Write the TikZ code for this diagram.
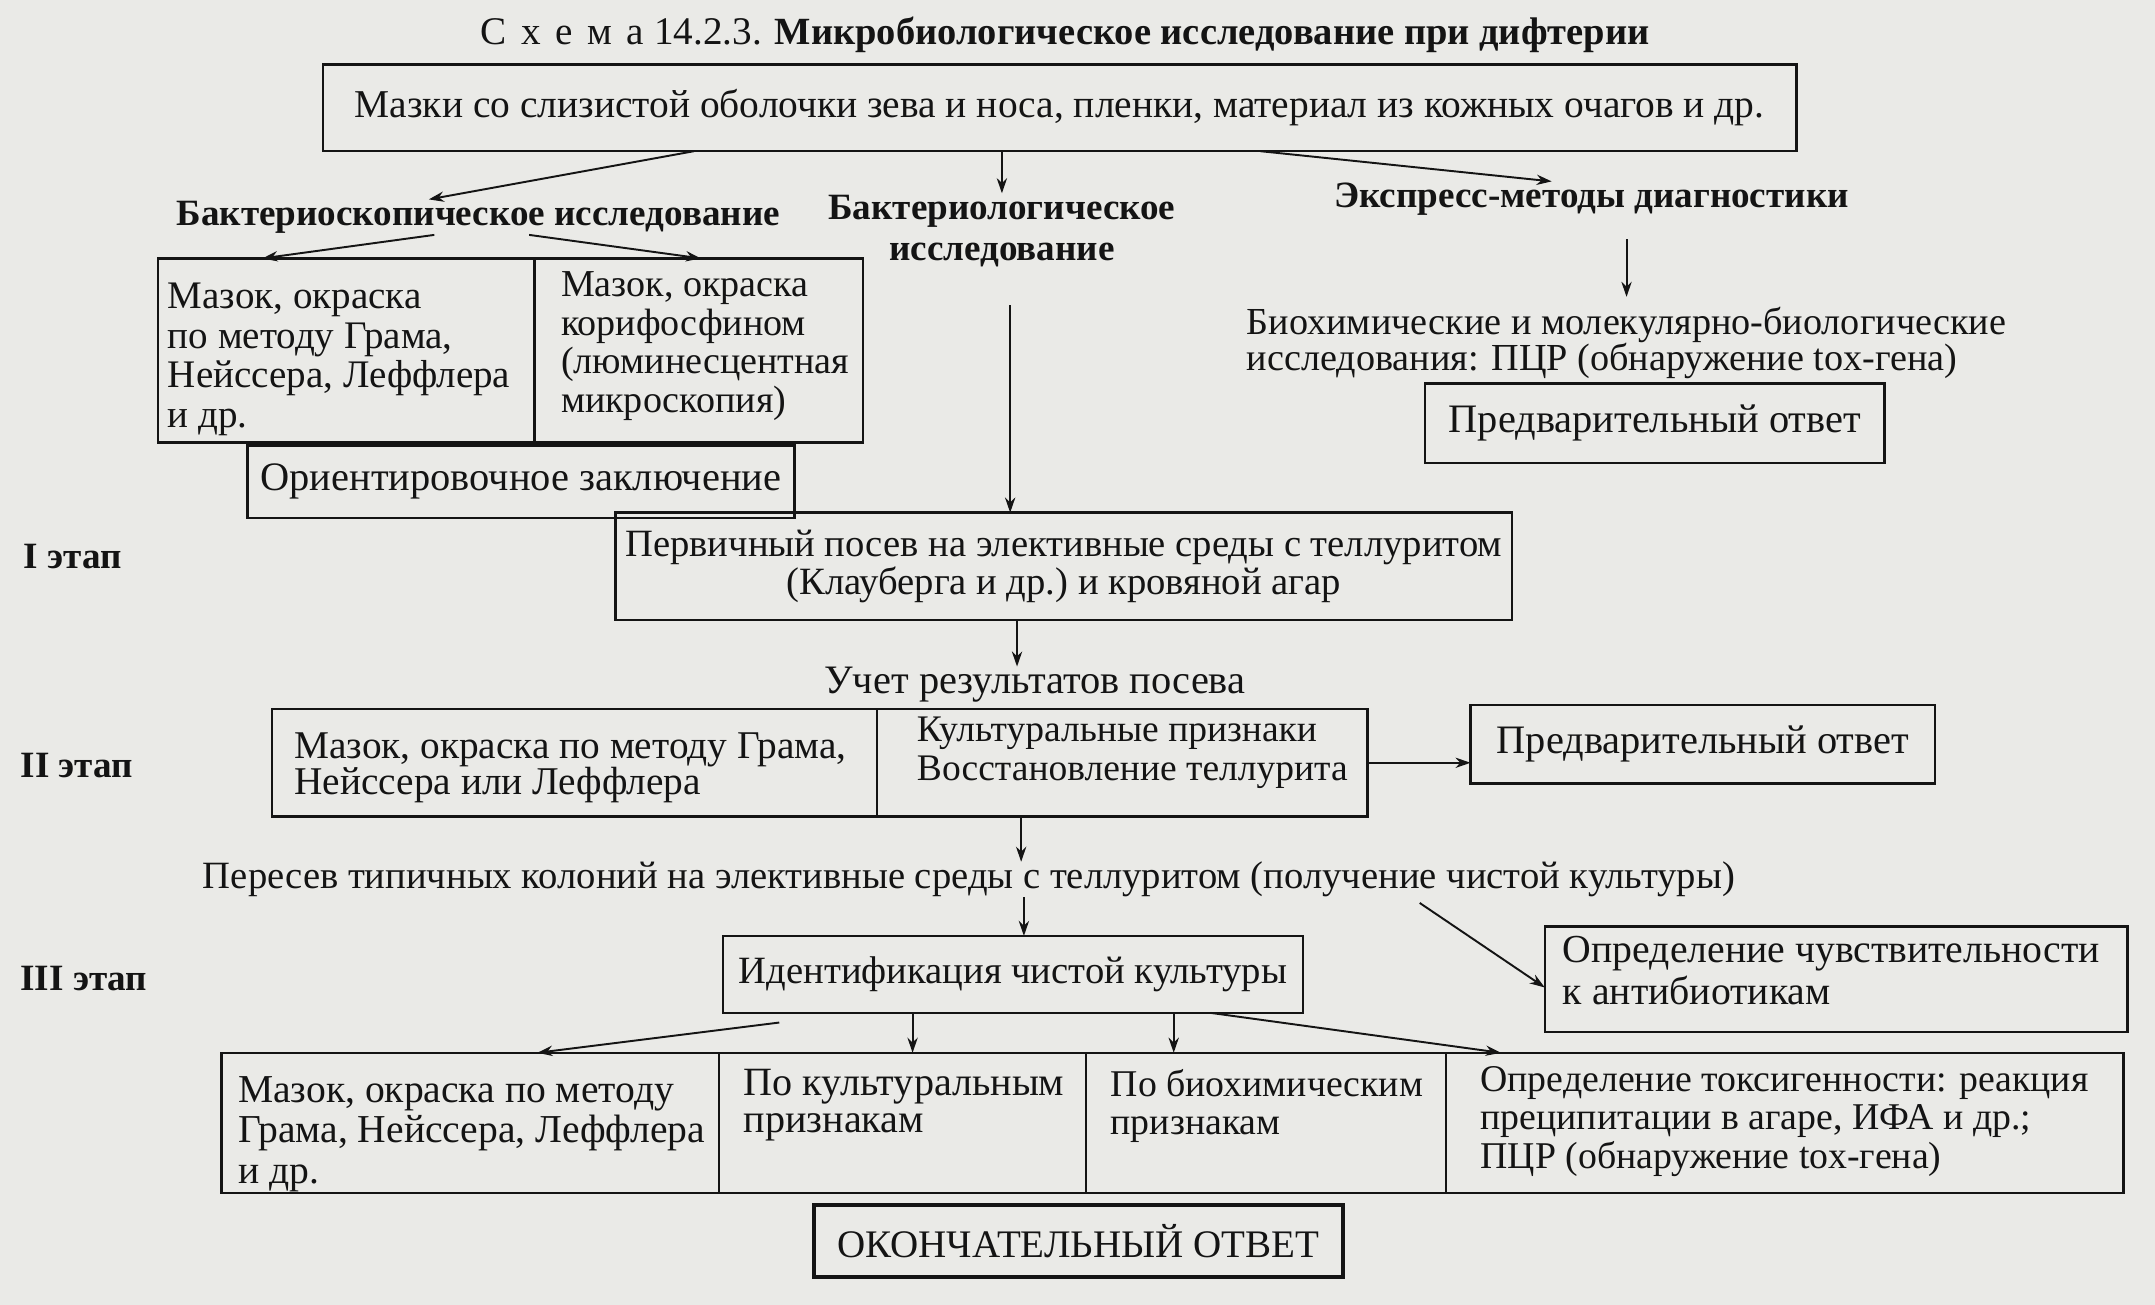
\documentclass[tikz,border=0pt]{standalone}
\usepackage{fontspec}
\setmainfont{Liberation Serif}
\usetikzlibrary{arrows.meta,calc}
\definecolor{bgc}{RGB}{234,234,231}
\definecolor{ink}{RGB}{20,20,20}
\newcommand\myfs[2]{\fontsize{#1}{#2}\selectfont}
\begin{document}
\begin{tikzpicture}[x=1pt,y=-1pt,
  every node/.style={font=\myfs{28.5}{28.5}, text=ink},
  box/.style={draw=ink, line width=1.8pt, inner sep=0pt, outer sep=0pt},
  finbox/.style={box, line width=3pt},
  txt/.style={inner sep=0pt, align=left},
  hd/.style={inner sep=1pt, font=\myfs{27}{30}\bfseries, align=center},
  stage/.style={inner sep=0pt, font=\myfs{27}{30}\bfseries},
  arr/.style={draw=ink, line width=1.4pt, -{Stealth[length=11pt,width=7.5pt]}},
]
\fill[bgc] (0,0) rectangle (1568,949.5);
\useasboundingbox (0,0) rectangle (1568,949.5);

% title
\node[txt] (title) at (775,25) {{\addfontfeature{LetterSpace=38}Схема}\ 14.2.3. {\myfs{28}{30}\bfseries Микробиологическое исследование при дифтерии}};

% source box
\node[box, minimum width=1072pt, minimum height=63pt, font=\myfs{28.7}{30}] (src) at (771,78.5) {Мазки со слизистой оболочки зева и носа, пленки, материал из кожных очагов и др.};

% headings
\node[hd] (bs) at (348,158) {Бактериоскопическое исследование};
\node[hd] (bl) at (729,168) {Бактериологическое\\исследование};
\node[hd] (ex) at (1158,145) {Экспресс-методы диагностики};

% bacterioscopic split box
\node[box, minimum width=274pt, minimum height=134pt, anchor=north west] (a1) at (115,188) {};
\node[box, minimum width=239pt, minimum height=134pt, anchor=north west] (a2) at (389,188) {};
\node[txt, anchor=north west, font=\myfs{28.4}{29}] (a1t) at (122,205.5) {Мазок, окраска\\по методу Грама,\\Нейссера,\ Леффлера\\и др.};
\node[txt, anchor=north west, font=\myfs{27.7}{28}] (a2t) at (408,197.5) {Мазок, окраска\\корифосфином\\(люминесцентная\\микроскопия)};
\node[box, minimum width=398pt, minimum height=53pt, anchor=north west] (ori) at (180,324) {};
\node[txt, font=\myfs{29.4}{30}] (orit) at (ori.center) {Ориентировочное заключение};

% express branch
\node[txt, anchor=north west, font=\myfs{27.8}{26.5}] (bio) at (907,223) {Биохимические и молекулярно-биологические\\исследования: ПЦР (обнаружение tox-гена)};
\node[box, minimum width=334pt, minimum height=58pt, font=\myfs{29.4}{30}] (pr1) at (1204,308) {Предварительный ответ};

% stage labels
\node[stage] (s1) at (53,405) {I этап};
\node[stage] (s2) at (56,557) {II этап};
\node[stage] (s3) at (61,712) {III этап};

% primary culture
\node[box, minimum width=652pt, minimum height=78pt, align=center, font=\myfs{28.1}{28}] (P) at (774,412) {Первичный посев на элективные среды с\ теллуритом\\(Клауберга и др.)\  и кровяной агар};
\node[txt, font=\myfs{29.4}{30}] (U) at (753,498) {Учет результатов посева};

% stage II split box
\node[box, minimum width=440pt, minimum height=78pt, anchor=north west] (b1) at (198,516) {};
\node[box, minimum width=357pt, minimum height=78pt, anchor=north west] (b2) at (638,516) {};
\node[txt, anchor=north west, font=\myfs{28.6}{26.5}] (b1t) at (214,533) {Мазок,\ окраска по методу Грама,\\Нейссера или Леффлера};
\node[txt, anchor=north west, font=\myfs{27.3}{28}] (b2t) at (667,521.5) {Культуральные признаки\\Восстановление теллурита};
\node[box, minimum width=338pt, minimum height=57pt, font=\myfs{29.4}{30}] (pr2) at (1239,541.5) {Предварительный ответ};

% reseeding
\node[txt, font=\myfs{28.1}{30}] (R) at (705,640) {Пересев типичных колоний на элективные среды с\ теллуритом (получение чистой культуры)};

% stage III
\node[box, minimum width=422pt, minimum height=56pt, font=\myfs{28.1}{30}] (ident) at (737,709) {Идентификация чистой культуры};
\node[box, minimum width=424pt, minimum height=77pt, anchor=north west] (sens) at (1124,674) {};
\node[txt, anchor=north west, font=\myfs{28.9}{30.5}] (senst) at (1137,681) {Определение чувствительности\\к антибиотикам};

% bottom split box
\node[box, minimum width=362pt, minimum height=102pt, anchor=north west] (c1) at (161,766) {};
\node[box, minimum width=267pt, minimum height=102pt, anchor=north west] (c2) at (523,766) {};
\node[box, minimum width=262pt, minimum height=102pt, anchor=north west] (c3) at (790,766) {};
\node[box, minimum width=493pt, minimum height=102pt, anchor=north west] (c4) at (1052,766) {};
\node[txt, anchor=north west, font=\myfs{28.8}{29.5}] (c1t) at (173,783) {Мазок,\ окраска по методу\\Грама,\ Нейссера,\ Леффлера\\и др.};
\node[txt, anchor=north west, font=\myfs{29.2}{27.5}] (c2t) at (541,777.5) {По культуральным\\признакам};
\node[txt, anchor=north west, font=\myfs{27.5}{27.5}] (c3t) at (808,778) {По биохимическим\\признакам};
\node[txt, anchor=north west, font=\myfs{27.5}{28}] (c4t) at (1077,775.5) {Определение токсигенности: реакция\\преципитации в агаре,\ ИФА и др.;\\ПЦР (обнаружение tox-гена)};

\node[finbox, minimum width=385pt, minimum height=52pt, font=\myfs{28.4}{30}] (fin) at (784.5,903) {ОКОНЧАТЕЛЬНЫЙ ОТВЕТ};

% connectors
\draw[arr] ($(src.south west)+(270,0)$) -- ($(bs.north)+(-36,0)$);
\draw[arr] (src.south -| bl.north) -- (bl.north);
\draw[arr] ($(src.south west)+(682,0)$) -- ($(ex.north)+(-29,0)$);
\draw[arr] ($(bs.south)+(-32,0)$) -- ($(a1.north west)+(76,0)$);
\draw[arr] ($(bs.south)+(37,0)$) -- ($(a2.north west)+(121,0)$);

\coordinate (v1) at (735,222);
\draw[arr] (v1) -- (v1 |- P.north);
\draw[arr, shorten <=16pt] (bio.north |- ex.south) -- ($(bio.north)+(0,-7)$);

\coordinate (v2) at ($(P.south west)+(292,0)$);
\draw[arr] (v2) -- (v2 |- U.north);
\draw[arr] (b2.east) -- (b2.east -| pr2.west);
\coordinate (v3) at ($(b1.south west)+(545,0)$);
\draw[arr] (v3) -- (v3 |- R.north);
\coordinate (v4) at ($(R.south)+(40,0)$);
\draw[arr] (v4) -- (v4 |- ident.north);
\coordinate (rs) at (1033,657);
\draw[arr] (rs) -- ($(sens.west)+(0,6)$);

\draw[arr] ($(ident.south west)+(41,7)$) -- ($(c1.north west)+(230,0)$);
\coordinate (v5) at ($(ident.south west)+(138,0)$);
\coordinate (v6) at ($(ident.south west)+(328,0)$);
\draw[arr] (v5) -- (v5 |- c2.north);
\draw[arr] (v6) -- (v6 |- c3.north);
\draw[arr] ($(ident.south west)+(355,0)$) -- ($(c4.north west)+(40,0)$);
\end{tikzpicture}
\end{document}
